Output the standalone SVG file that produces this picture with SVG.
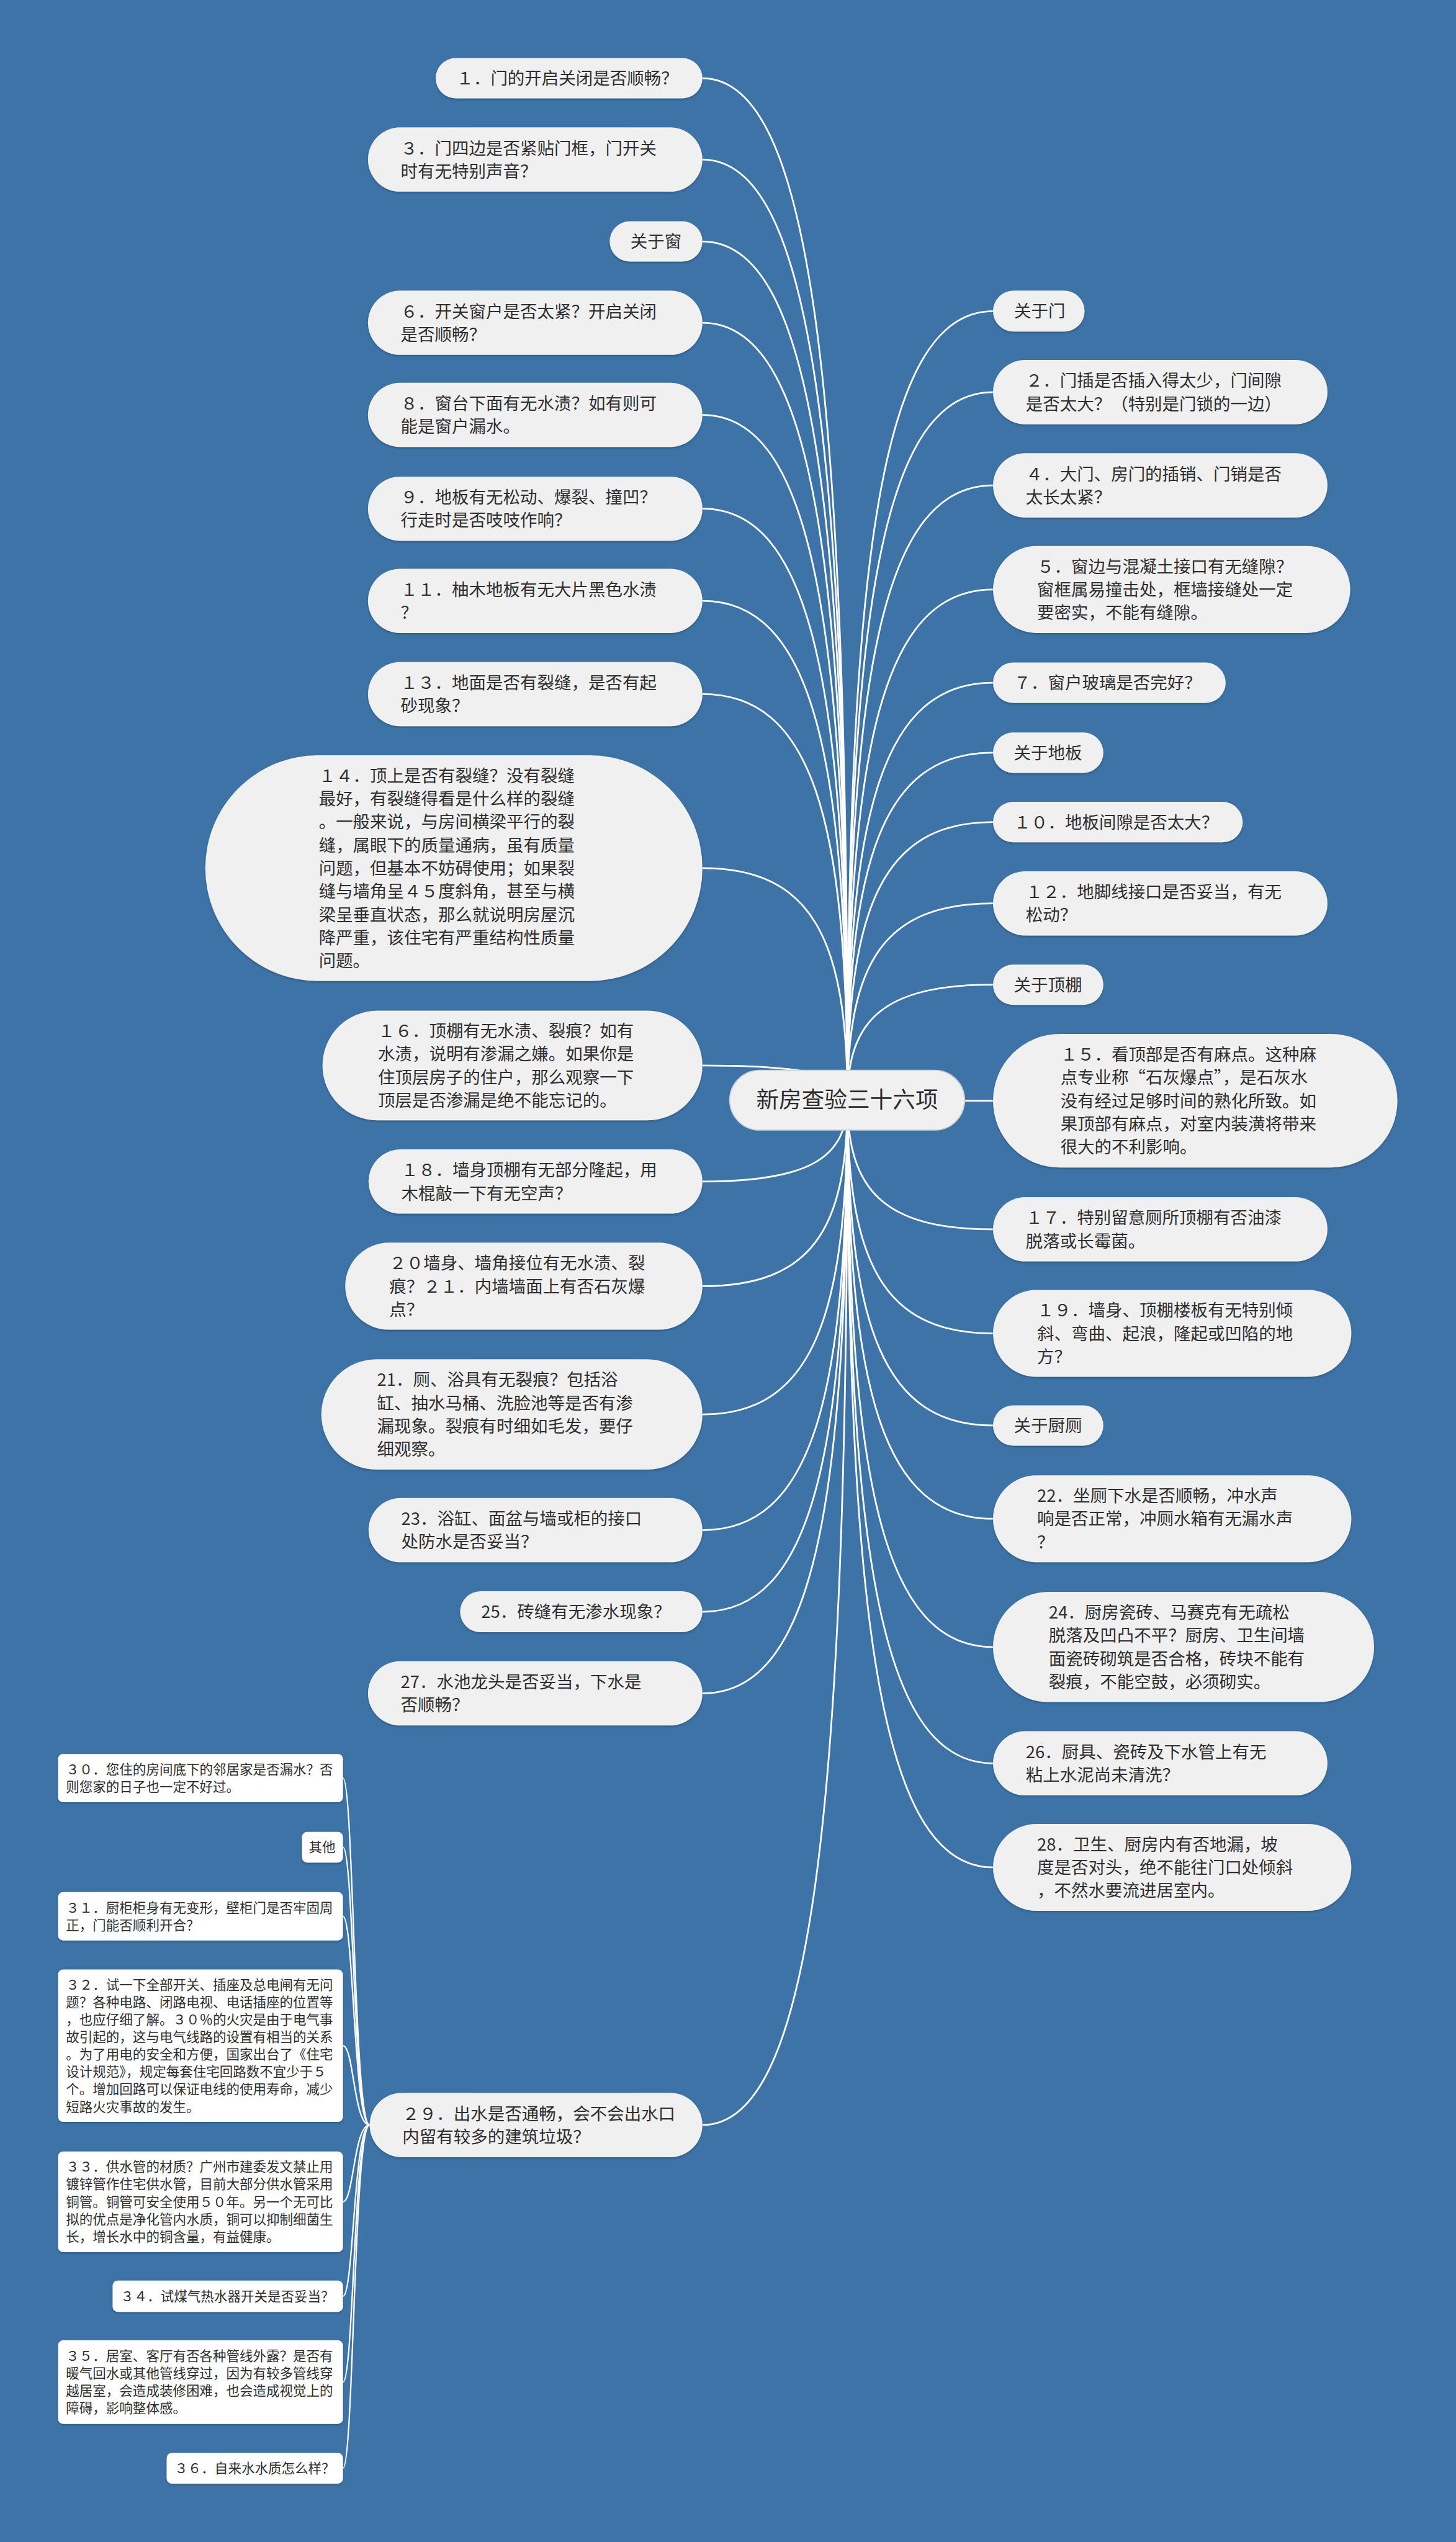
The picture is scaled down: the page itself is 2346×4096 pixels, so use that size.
<svg xmlns="http://www.w3.org/2000/svg" width="2346" height="4096" viewBox="0 0 2346 4096">
<defs>
<filter id="sh" x="-5%" y="-10%" width="110%" height="130%"><feDropShadow dx="0" dy="2" stdDeviation="1.5" flood-color="#1b3a5a" flood-opacity="0.45"/></filter>
<style>
.bg{fill:#3d73a6}
.n rect{fill:#f0f0f0;filter:url(#sh)}
.s rect{fill:#ffffff;filter:url(#sh)}
.c rect{fill:#f0f0f0;stroke:#c8d0d8;stroke-width:2}
text{font-family:"Noto Sans CJK SC","Noto Sans",sans-serif;fill:#2e2e2e}
.n text{font-size:30px}
.s text{font-size:23.5px}
.c text{font-size:40px;text-anchor:middle}
#links path{fill:none;stroke:#ffffff;stroke-width:3}
#links .sl{stroke-width:2.5}
</style>
</defs>
<rect class="bg" width="2346" height="4096"/>
<g transform="scale(0.9164)">
<g id="links">
<path d="M1235,137.5 C1426,137.5 1490,676.5 1490,1934"/>
<path d="M1235,280.5 C1426,280.5 1490,776.6 1490,1934"/>
<path d="M1235,424.5 C1426,424.5 1490,877.4 1490,1934"/>
<path d="M1235,567.5 C1426,567.5 1490,977.5 1490,1934"/>
<path d="M1235,729.5 C1426,729.5 1490,1090.9 1490,1934"/>
<path d="M1235,894.5 C1426,894.5 1490,1206.4 1490,1934"/>
<path d="M1235,1056.5 C1426,1056.5 1490,1319.8 1490,1934"/>
<path d="M1235,1220.5 C1426,1220.5 1490,1434.6 1490,1934"/>
<path d="M1235,1526.5 C1426,1526.5 1490,1648.8 1490,1934"/>
<path d="M1235,1873.5 C1426,1873.5 1490,1891.7 1490,1934"/>
<path d="M1235,2077.5 C1426,2077.5 1490,2034.5 1490,1934"/>
<path d="M1235,2261.5 C1426,2261.5 1490,2163.3 1490,1934"/>
<path d="M1235,2487 C1426,2487 1490,2321.1 1490,1934"/>
<path d="M1235,2690.5 C1426,2690.5 1490,2463.6 1490,1934"/>
<path d="M1235,2834 C1426,2834 1490,2564 1490,1934"/>
<path d="M1235,2977.5 C1426,2977.5 1490,2664.5 1490,1934"/>
<path d="M1235,3736.5 C1426,3736.5 1490,3195.8 1490,1934"/>
<path d="M1746,547 C1554,547 1490,963.1 1490,1934"/>
<path d="M1746,689.5 C1554,689.5 1490,1062.9 1490,1934"/>
<path d="M1746,853.5 C1554,853.5 1490,1177.7 1490,1934"/>
<path d="M1746,1036.5 C1554,1036.5 1490,1305.8 1490,1934"/>
<path d="M1746,1200.5 C1554,1200.5 1490,1420.6 1490,1934"/>
<path d="M1746,1323.5 C1554,1323.5 1490,1506.7 1490,1934"/>
<path d="M1746,1445.5 C1554,1445.5 1490,1592.1 1490,1934"/>
<path d="M1746,1588.5 C1554,1588.5 1490,1692.2 1490,1934"/>
<path d="M1746,1731.5 C1554,1731.5 1490,1792.3 1490,1934"/>
<path d="M1746,1935.5 C1554,1935.5 1490,1935.1 1490,1934"/>
<path d="M1746,2161.5 C1554,2161.5 1490,2093.3 1490,1934"/>
<path d="M1746,2344.5 C1554,2344.5 1490,2221.4 1490,1934"/>
<path d="M1746,2506.5 C1554,2506.5 1490,2334.8 1490,1934"/>
<path d="M1746,2670.5 C1554,2670.5 1490,2449.6 1490,1934"/>
<path d="M1746,2896 C1554,2896 1490,2607.4 1490,1934"/>
<path d="M1746,3100.5 C1554,3100.5 1490,2750.6 1490,1934"/>
<path d="M1746,3283.5 C1554,3283.5 1490,2878.7 1490,1934"/>
<path class="sl" d="M650,3736.5 C622,3736.5 622,3126.5 603,3126.5"/>
<path class="sl" d="M650,3736.5 C622,3736.5 622,3248 603,3248"/>
<path class="sl" d="M650,3736.5 C622,3736.5 622,3369.5 603,3369.5"/>
<path class="sl" d="M650,3736.5 C622,3736.5 622,3597 603,3597"/>
<path class="sl" d="M650,3736.5 C622,3736.5 622,3871.5 603,3871.5"/>
<path class="sl" d="M650,3736.5 C622,3736.5 622,4037.5 603,4037.5"/>
<path class="sl" d="M650,3736.5 C622,3736.5 622,4188.5 603,4188.5"/>
<path class="sl" d="M650,3736.5 C622,3736.5 622,4340 603,4340"/>
</g>

<g id="center" class="c"><rect x="1283" y="1882" width="413" height="105" rx="52.5"/><text x="1489.5" y="1948">新房查验三十六项</text></g>

<g id="n1" class="n"><rect x="766" y="102" width="469" height="71" rx="35.5"/><text x="802.5" y="148.5">１．门的开启关闭是否顺畅？</text></g>
<g id="n3" class="n"><rect x="647" y="224" width="588" height="113" rx="56.5"/><text><tspan x="704.5" y="271.2">３．门四边是否紧贴门框，门开关</tspan><tspan x="704.5" y="311.9">时有无特别声音？</tspan></text></g>
<g id="window" class="n"><rect x="1072" y="389" width="163" height="71" rx="35.5"/><text x="1108.5" y="435.5">关于窗</text></g>
<g id="n6" class="n"><rect x="647" y="511" width="588" height="113" rx="56.5"/><text><tspan x="704.5" y="558.2">６．开关窗户是否太紧？开启关闭</tspan><tspan x="704.5" y="598.9">是否顺畅？</tspan></text></g>
<g id="n8" class="n"><rect x="647" y="673" width="588" height="113" rx="56.5"/><text><tspan x="704.5" y="720.2">８．窗台下面有无水渍？如有则可</tspan><tspan x="704.5" y="760.9">能是窗户漏水。</tspan></text></g>
<g id="n9" class="n"><rect x="647" y="838" width="588" height="113" rx="56.5"/><text><tspan x="704.5" y="885.2">９．地板有无松动、爆裂、撞凹？</tspan><tspan x="704.5" y="925.9">行走时是否吱吱作响？</tspan></text></g>
<g id="n11" class="n"><rect x="647" y="1000" width="588" height="113" rx="56.5"/><text><tspan x="704.5" y="1047.2">１１．柚木地板有无大片黑色水渍</tspan><tspan x="704.5" y="1087.9">？</tspan></text></g>
<g id="n13" class="n"><rect x="647" y="1164" width="588" height="113" rx="56.5"/><text><tspan x="704.5" y="1211.2">１３．地面是否有裂缝，是否有起</tspan><tspan x="704.5" y="1251.9">砂现象？</tspan></text></g>
<g id="n14" class="n"><rect x="361" y="1328" width="874" height="397" rx="198.5"/><text><tspan x="560.5" y="1374.7">１４．顶上是否有裂缝？没有裂缝</tspan><tspan x="560.5" y="1415.4">最好，有裂缝得看是什么样的裂缝</tspan><tspan x="560.5" y="1456.1">。一般来说，与房间横梁平行的裂</tspan><tspan x="560.5" y="1496.8">缝，属眼下的质量通病，虽有质量</tspan><tspan x="560.5" y="1537.5">问题，但基本不妨碍使用；如果裂</tspan><tspan x="560.5" y="1578.2">缝与墙角呈４５度斜角，甚至与横</tspan><tspan x="560.5" y="1618.9">梁呈垂直状态，那么就说明房屋沉</tspan><tspan x="560.5" y="1659.6">降严重，该住宅有严重结构性质量</tspan><tspan x="560.5" y="1700.3">问题。</tspan></text></g>
<g id="n16" class="n"><rect x="567" y="1777" width="668" height="193" rx="96.5"/><text><tspan x="664.5" y="1823.5">１６．顶棚有无水渍、裂痕？如有</tspan><tspan x="664.5" y="1864.2">水渍，说明有渗漏之嫌。如果你是</tspan><tspan x="664.5" y="1904.9">住顶层房子的住户，那么观察一下</tspan><tspan x="664.5" y="1945.6">顶层是否渗漏是绝不能忘记的。</tspan></text></g>
<g id="n18" class="n"><rect x="648" y="2021" width="587" height="113" rx="56.5"/><text><tspan x="705.5" y="2068.2">１８．墙身顶棚有无部分隆起，用</tspan><tspan x="705.5" y="2108.9">木棍敲一下有无空声？</tspan></text></g>
<g id="n20" class="n"><rect x="607" y="2185" width="628" height="153" rx="76.5"/><text><tspan x="684.5" y="2231.8">２０墙身、墙角接位有无水渍、裂</tspan><tspan x="684.5" y="2272.5">痕？２１．内墙墙面上有否石灰爆</tspan><tspan x="684.5" y="2313.2">点？</tspan></text></g>
<g id="n21" class="n"><rect x="565" y="2390" width="670" height="194" rx="97"/><text><tspan x="663" y="2437">21．厕、浴具有无裂痕？包括浴</tspan><tspan x="663" y="2477.7">缸、抽水马桶、洗脸池等是否有渗</tspan><tspan x="663" y="2518.4">漏现象。裂痕有时细如毛发，要仔</tspan><tspan x="663" y="2559.1">细观察。</tspan></text></g>
<g id="n23" class="n"><rect x="648" y="2634" width="587" height="113" rx="56.5"/><text><tspan x="705.5" y="2681.2">23．浴缸、面盆与墙或柜的接口</tspan><tspan x="705.5" y="2721.9">处防水是否妥当？</tspan></text></g>
<g id="n25" class="n"><rect x="809" y="2798" width="426" height="72" rx="36"/><text x="846" y="2845">25．砖缝有无渗水现象？</text></g>
<g id="n27" class="n"><rect x="647" y="2921" width="588" height="113" rx="56.5"/><text><tspan x="704.5" y="2968.2">27．水池龙头是否妥当，下水是</tspan><tspan x="704.5" y="3008.9">否顺畅？</tspan></text></g>
<g id="n29" class="n"><rect x="650" y="3680" width="585" height="113" rx="56.5"/><text><tspan x="707.5" y="3727.2">２９．出水是否通畅，会不会出水口</tspan><tspan x="707.5" y="3767.9">内留有较多的建筑垃圾？</tspan></text></g>

<g id="door" class="n"><rect x="1746" y="511" width="161" height="72" rx="36"/><text x="1783" y="558">关于门</text></g>
<g id="n2" class="n"><rect x="1746" y="633" width="588" height="113" rx="56.5"/><text><tspan x="1803.5" y="680.2">２．门插是否插入得太少，门间隙</tspan><tspan x="1803.5" y="720.9">是否太大？（特别是门锁的一边）</tspan></text></g>
<g id="n4" class="n"><rect x="1746" y="797" width="588" height="113" rx="56.5"/><text><tspan x="1803.5" y="844.2">４．大门、房门的插销、门销是否</tspan><tspan x="1803.5" y="884.9">太长太紧？</tspan></text></g>
<g id="n5" class="n"><rect x="1746" y="960" width="628" height="153" rx="76.5"/><text><tspan x="1823.5" y="1006.8">５．窗边与混凝土接口有无缝隙？</tspan><tspan x="1823.5" y="1047.5">窗框属易撞击处，框墙接缝处一定</tspan><tspan x="1823.5" y="1088.2">要密实，不能有缝隙。</tspan></text></g>
<g id="n7" class="n"><rect x="1746" y="1165" width="409" height="71" rx="35.5"/><text x="1782.5" y="1211.5">７．窗户玻璃是否完好？</text></g>
<g id="floor" class="n"><rect x="1746" y="1288" width="194" height="71" rx="35.5"/><text x="1782.5" y="1334.5">关于地板</text></g>
<g id="n10" class="n"><rect x="1746" y="1410" width="439" height="71" rx="35.5"/><text x="1782.5" y="1456.5">１０．地板间隙是否太大？</text></g>
<g id="n12" class="n"><rect x="1746" y="1532" width="588" height="113" rx="56.5"/><text><tspan x="1803.5" y="1579.2">１２．地脚线接口是否妥当，有无</tspan><tspan x="1803.5" y="1619.9">松动？</tspan></text></g>
<g id="ceiling" class="n"><rect x="1746" y="1696" width="194" height="71" rx="35.5"/><text x="1782.5" y="1742.5">关于顶棚</text></g>
<g id="n15" class="n"><rect x="1746" y="1818" width="711" height="235" rx="117.5"/><text><tspan x="1864.5" y="1865.1">１５．看顶部是否有麻点。这种麻</tspan><tspan x="1864.5" y="1905.8">点专业称“石灰爆点”，是石灰水</tspan><tspan x="1864.5" y="1946.5">没有经过足够时间的熟化所致。如</tspan><tspan x="1864.5" y="1987.2">果顶部有麻点，对室内装潢将带来</tspan><tspan x="1864.5" y="2027.9">很大的不利影响。</tspan></text></g>
<g id="n17" class="n"><rect x="1746" y="2105" width="588" height="113" rx="56.5"/><text><tspan x="1803.5" y="2152.2">１７．特别留意厕所顶棚有否油漆</tspan><tspan x="1803.5" y="2192.9">脱落或长霉菌。</tspan></text></g>
<g id="n19" class="n"><rect x="1746" y="2268" width="630" height="153" rx="76.5"/><text><tspan x="1823.5" y="2314.8">１９．墙身、顶棚楼板有无特别倾</tspan><tspan x="1823.5" y="2355.5">斜、弯曲、起浪，隆起或凹陷的地</tspan><tspan x="1823.5" y="2396.2">方？</tspan></text></g>
<g id="kitchen" class="n"><rect x="1746" y="2471" width="194" height="71" rx="35.5"/><text x="1782.5" y="2517.5">关于厨厕</text></g>
<g id="n22" class="n"><rect x="1746" y="2594" width="630" height="153" rx="76.5"/><text><tspan x="1823.5" y="2640.8">22．坐厕下水是否顺畅，冲水声</tspan><tspan x="1823.5" y="2681.5">响是否正常，冲厕水箱有无漏水声</tspan><tspan x="1823.5" y="2722.2">？</tspan></text></g>
<g id="n24" class="n"><rect x="1746" y="2799" width="670" height="194" rx="97"/><text><tspan x="1844" y="2846">24．厨房瓷砖、马赛克有无疏松</tspan><tspan x="1844" y="2886.7">脱落及凹凸不平？厨房、卫生间墙</tspan><tspan x="1844" y="2927.4">面瓷砖砌筑是否合格，砖块不能有</tspan><tspan x="1844" y="2968.1">裂痕，不能空鼓，必须砌实。</tspan></text></g>
<g id="n26" class="n"><rect x="1746" y="3044" width="588" height="113" rx="56.5"/><text><tspan x="1803.5" y="3091.2">26．厨具、瓷砖及下水管上有无</tspan><tspan x="1803.5" y="3131.9">粘上水泥尚未清洗？</tspan></text></g>
<g id="n28" class="n"><rect x="1746" y="3207" width="630" height="153" rx="76.5"/><text><tspan x="1823.5" y="3253.8">28．卫生、厨房内有否地漏，坡</tspan><tspan x="1823.5" y="3294.5">度是否对头，绝不能往门口处倾斜</tspan><tspan x="1823.5" y="3335.2">，不然水要流进居室内。</tspan></text></g>

<g id="n30" class="s"><rect x="102" y="3084" width="501" height="85" rx="9"/><text><tspan x="116" y="3119.7">３０．您住的房间底下的邻居家是否漏水？否</tspan><tspan x="116" y="3150.4">则您家的日子也一定不好过。</tspan></text></g>
<g id="other" class="s"><rect x="531" y="3221" width="72" height="54" rx="9"/><text x="543" y="3256.5">其他</text></g>
<g id="n31" class="s"><rect x="102" y="3327" width="501" height="85" rx="9"/><text><tspan x="116" y="3362.7">３１．厨柜柜身有无变形，壁柜门是否牢固周</tspan><tspan x="116" y="3393.4">正，门能否顺利开合？</tspan></text></g>
<g id="n32" class="s"><rect x="102" y="3463" width="501" height="268" rx="9"/><text><tspan x="116" y="3498.1">３２．试一下全部开关、插座及总电闸有无问</tspan><tspan x="116" y="3528.8">题？各种电路、闭路电视、电话插座的位置等</tspan><tspan x="116" y="3559.5">，也应仔细了解。３０％的火灾是由于电气事</tspan><tspan x="116" y="3590.2">故引起的，这与电气线路的设置有相当的关系</tspan><tspan x="116" y="3620.9">。为了用电的安全和方便，国家出台了《住宅</tspan><tspan x="116" y="3651.6">设计规范》，规定每套住宅回路数不宜少于５</tspan><tspan x="116" y="3682.3">个。增加回路可以保证电线的使用寿命，减少</tspan><tspan x="116" y="3713">短路火灾事故的发生。</tspan></text></g>
<g id="n33" class="s"><rect x="102" y="3783" width="501" height="177" rx="9"/><text><tspan x="116" y="3818.6">３３．供水管的材质？广州市建委发文禁止用</tspan><tspan x="116" y="3849.3">镀锌管作住宅供水管，目前大部分供水管采用</tspan><tspan x="116" y="3880">铜管。铜管可安全使用５０年。另一个无可比</tspan><tspan x="116" y="3910.7">拟的优点是净化管内水质，铜可以抑制细菌生</tspan><tspan x="116" y="3941.4">长，增长水中的铜含量，有益健康。</tspan></text></g>
<g id="n34" class="s"><rect x="198" y="4010" width="405" height="55" rx="9"/><text x="212" y="4046">３４．试煤气热水器开关是否妥当？</text></g>
<g id="n35" class="s"><rect x="102" y="4115" width="501" height="147" rx="9"/><text><tspan x="116" y="4151">３５．居室、客厅有否各种管线外露？是否有</tspan><tspan x="116" y="4181.7">暖气回水或其他管线穿过，因为有较多管线穿</tspan><tspan x="116" y="4212.4">越居室，会造成装修困难，也会造成视觉上的</tspan><tspan x="116" y="4243.1">障碍，影响整体感。</tspan></text></g>
<g id="n36" class="s"><rect x="293" y="4313" width="310" height="54" rx="9"/><text x="307" y="4348.5">３６．自来水水质怎么样？</text></g>
</g>
</svg>
